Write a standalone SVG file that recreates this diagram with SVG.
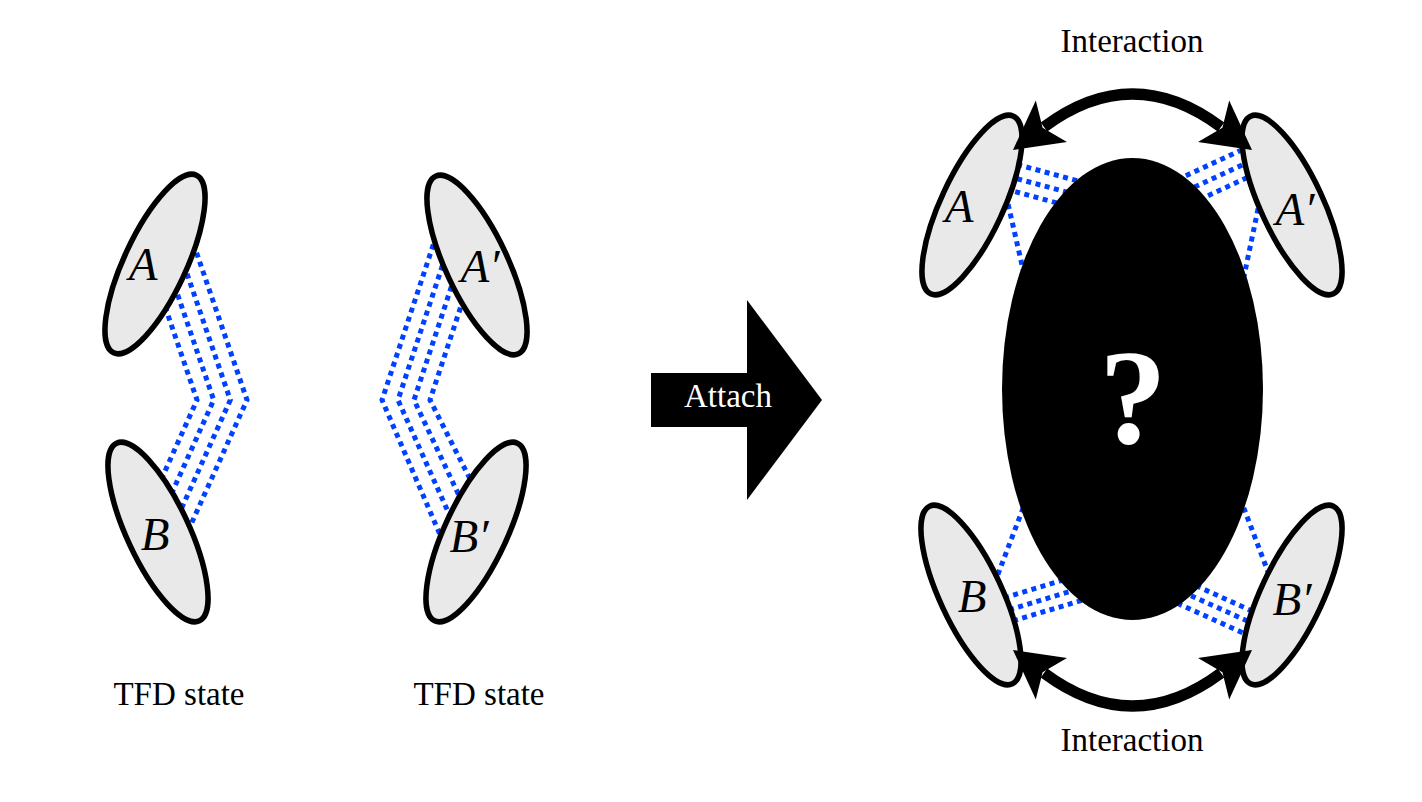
<svg xmlns="http://www.w3.org/2000/svg" width="1422" height="802" viewBox="0 0 1422 802">
<style>
.nf{fill:#e9e9e9;stroke:none}
.nl{fill:none;stroke:#000;stroke-width:5.5}
.lbl{font-family:"Liberation Serif",serif;font-style:italic;font-size:47px;fill:#000;text-anchor:middle}
.cap{font-family:"Liberation Serif",serif;font-size:33px;fill:#000;text-anchor:middle}
.dot{fill:none;stroke:#0040ff;stroke-width:5;stroke-dasharray:5 4.5}
.arc{fill:none;stroke:#000;stroke-width:11}
.head{fill:#000;stroke:none}
</style>
<rect width="1422" height="802" fill="#fff"/>

<g id="connectors">
  <g id="tfd-left">
    <polyline class="dot" points="165.1,306.8 197,400 160.5,481.1"/>
    <polyline class="dot" points="174.6,285.8 213.7,400 170,497.1"/>
    <polyline class="dot" points="184,264.8 230.3,400 179.4,513.1"/>
    <polyline class="dot" points="193.5,243.8 247,400 188.9,529.1"/>
  </g>
  <g id="tfd-right">
    <polyline class="dot" points="436.3,235.6 382,400 442,539.2"/>
    <polyline class="dot" points="445.4,256.6 398,400 451.8,520.1"/>
    <polyline class="dot" points="454.4,277.6 414,400 461.6,501"/>
    <polyline class="dot" points="463.5,298.6 430,400 471.5,481.9"/>
  </g>
  <g id="attached">
    <line class="dot" x1="1008" y1="162" x2="1100" y2="187"/>
    <line class="dot" x1="1008" y1="176.3" x2="1100" y2="201"/>
    <line class="dot" x1="1006" y1="189.2" x2="1100" y2="214.6"/>
    <line class="dot" x1="1006" y1="195" x2="1030" y2="300"/>
    <line class="dot" x1="1160" y1="187.7" x2="1247" y2="147.4"/>
    <line class="dot" x1="1160" y1="203" x2="1250" y2="161.4"/>
    <line class="dot" x1="1165" y1="215.7" x2="1254" y2="174.4"/>
    <line class="dot" x1="1262" y1="190" x2="1237" y2="310"/>
    <line class="dot" x1="995" y1="600.5" x2="1090" y2="572"/>
    <line class="dot" x1="1000" y1="612.5" x2="1095" y2="584"/>
    <line class="dot" x1="1004" y1="623.5" x2="1100" y2="595"/>
    <line class="dot" x1="1030" y1="490" x2="992" y2="590"/>
    <line class="dot" x1="1170" y1="574" x2="1258" y2="613.7"/>
    <line class="dot" x1="1165" y1="584" x2="1253" y2="623.5"/>
    <line class="dot" x1="1160" y1="595.5" x2="1251" y2="636.5"/>
    <line class="dot" x1="1237" y1="490" x2="1273" y2="585"/>
  </g>
</g>

<g id="nodeA-left" transform="translate(155,264)">
  <ellipse class="nf" rx="31" ry="98" transform="rotate(25)"/>
  <text class="lbl" x="-12" y="16">A</text>
  <ellipse class="nl" rx="31" ry="98" transform="rotate(25)"/>
</g>
<g id="nodeB-left" transform="translate(158,532)">
  <ellipse class="nf" rx="31" ry="98" transform="rotate(-25)"/>
  <text class="lbl" x="-3" y="18">B</text>
  <ellipse class="nl" rx="31" ry="98" transform="rotate(-25)"/>
</g>
<g id="nodeA2-left" transform="translate(477,265)">
  <ellipse class="nf" rx="31" ry="98" transform="rotate(-25)"/>
  <text class="lbl" x="3" y="17">A′</text>
  <ellipse class="nl" rx="31" ry="98" transform="rotate(-25)"/>
</g>
<g id="nodeB2-left" transform="translate(476,532)">
  <ellipse class="nf" rx="31" ry="98" transform="rotate(25)"/>
  <text class="lbl" x="-7" y="20">B′</text>
  <ellipse class="nl" rx="31" ry="98" transform="rotate(25)"/>
</g>

<g id="nodeA-right" transform="translate(972,205)">
  <ellipse class="nf" rx="31" ry="98" transform="rotate(25)"/>
  <text class="lbl" x="-13" y="17">A</text>
  <ellipse class="nl" rx="31" ry="98" transform="rotate(25)"/>
</g>
<g id="nodeA2-right" transform="translate(1292,205)">
  <ellipse class="nf" rx="31" ry="98" transform="rotate(-25)"/>
  <text class="lbl" x="3" y="20">A′</text>
  <ellipse class="nl" rx="31" ry="98" transform="rotate(-25)"/>
</g>
<g id="nodeB-right" transform="translate(971,595)">
  <ellipse class="nf" rx="31" ry="98" transform="rotate(-25)"/>
  <text class="lbl" x="1" y="17">B</text>
  <ellipse class="nl" rx="31" ry="98" transform="rotate(-25)"/>
</g>
<g id="nodeB2-right" transform="translate(1292,595)">
  <ellipse class="nf" rx="31" ry="98" transform="rotate(25)"/>
  <text class="lbl" x="0" y="20">B′</text>
  <ellipse class="nl" rx="31" ry="98" transform="rotate(25)"/>
</g>

<g id="blackhole">
  <ellipse cx="1132.5" cy="389" rx="130.5" ry="231" fill="#000"/>
  <text x="1133" y="443" font-family="'Liberation Serif', serif" font-weight="bold" font-size="135" fill="#fff" text-anchor="middle">?</text>
</g>

<g id="attach">
  <polygon points="651,373 747,373 747,300 822,400 747,500 747,427 651,427" fill="#000"/>
  <text class="cap" x="728" y="407" style="fill:#fff">Attach</text>
</g>

<g id="interactions">
  <path class="arc" d="M1044,127 Q1132.5,61 1221,127"/>
  <polygon class="head" points="1013,150 1035.8,100.4 1042.6,127.8 1067,142"/>
  <polygon class="head" points="1252,150 1229.2,100.4 1222.4,127.8 1198,142"/>
  <path class="arc" d="M1044,673 Q1132.5,739 1221,673"/>
  <polygon class="head" points="1013,650 1035.8,699.6 1042.6,672.2 1067,658"/>
  <polygon class="head" points="1252,650 1229.2,699.6 1222.4,672.2 1198,658"/>
</g>

<g id="captions">
  <text class="cap" x="179" y="705">TFD state</text>
  <text class="cap" x="479" y="705">TFD state</text>
  <text class="cap" x="1132" y="52">Interaction</text>
  <text class="cap" x="1132" y="751">Interaction</text>
</g>
</svg>
